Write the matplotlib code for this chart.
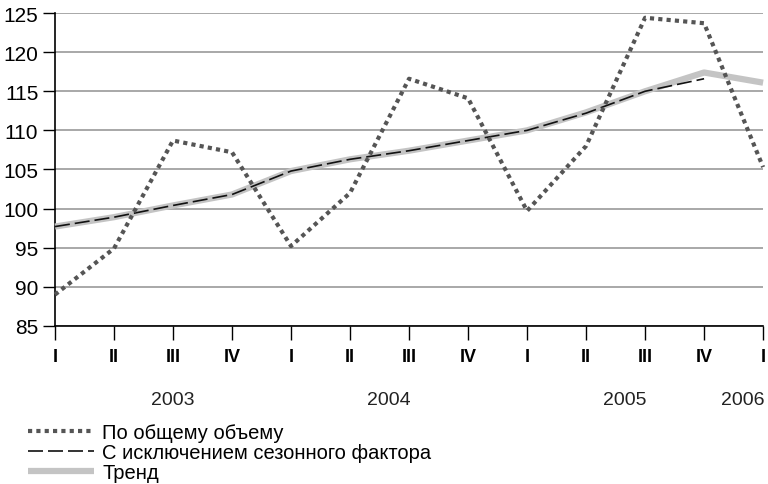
import matplotlib.pyplot as plt

plt.rcParams['font.family'] = ['Liberation Sans', 'DejaVu Sans']

# quarters 2003 I ... 2006 I
quarters = ['I', 'II', 'III', 'IV', 'I', 'II', 'III', 'IV', 'I', 'II', 'III', 'IV', 'I']
years = ['2003', '2004', '2005', '2006']
year_pos = [2.0, 5.65, 9.65, 11.65]

total = [89.0, 94.9, 108.7, 107.2, 95.2, 102.0, 116.6, 114.1, 99.7, 108.0, 124.4, 123.7, 105.3]
adjusted = [97.7, 98.9, 100.4, 101.8, 104.8, 106.3, 107.4, 108.7, 110.0, 112.2, 115.0, 116.6]
trend = [97.7, 98.9, 100.4, 101.8, 104.8, 106.3, 107.4, 108.7, 110.0, 112.3, 115.0, 117.4, 116.1]

x = list(range(len(quarters)))

fig = plt.figure(figsize=(7.68, 4.85), dpi=100)
ax = fig.add_axes([0.0716, 0.326, 0.922, 0.645])

ax.plot(x, trend, color='#c4c4c4', linewidth=4.5, solid_capstyle='butt', clip_on=False,
        label='Тренд', zorder=3)
ax.plot(x[:len(adjusted)], adjusted, color='#111111', linewidth=1.2, dashes=(9, 3),
        clip_on=False, label='С исключением сезонного фактора', zorder=4)
ax.plot(x, total, color='#555555', linewidth=3, linestyle=(0, (1, 1)), clip_on=False,
        label='По общему объему', zorder=5)

ax.set_xlim(0, 12)
ax.set_ylim(85, 125)
ax.set_yticks(range(85, 126, 5))
ax.set_xticks(x)
ax.set_xticklabels(quarters, fontweight='bold', fontsize=13)
ax.tick_params(axis='y', labelsize=15, length=9, width=1, direction='out', pad=3)
ax.tick_params(axis='x', length=10, width=1, direction='out', pad=6)
ax.grid(axis='y', color='#999999', linewidth=1.2)
ax.set_axisbelow(True)
for s in ['top', 'right']:
    ax.spines[s].set_visible(False)
ax.spines['left'].set_linewidth(1.2)
ax.spines['bottom'].set_linewidth(1.2)

for yp, yr in zip(year_pos, years):
    ax.text(yp, -0.235, yr, transform=ax.get_xaxis_transform(), ha='center', va='center',
            fontsize=14, color='#222222')

handles, labels = ax.get_legend_handles_labels()
fig.legend(handles[::-1], labels[::-1], loc='lower left', bbox_to_anchor=(0.036, 0.004),
           frameon=False, fontsize=14.5, handlelength=3.3, handletextpad=0.4,
           labelspacing=0.05, borderaxespad=0, borderpad=0)

fig.savefig('out.png', dpi=100)
